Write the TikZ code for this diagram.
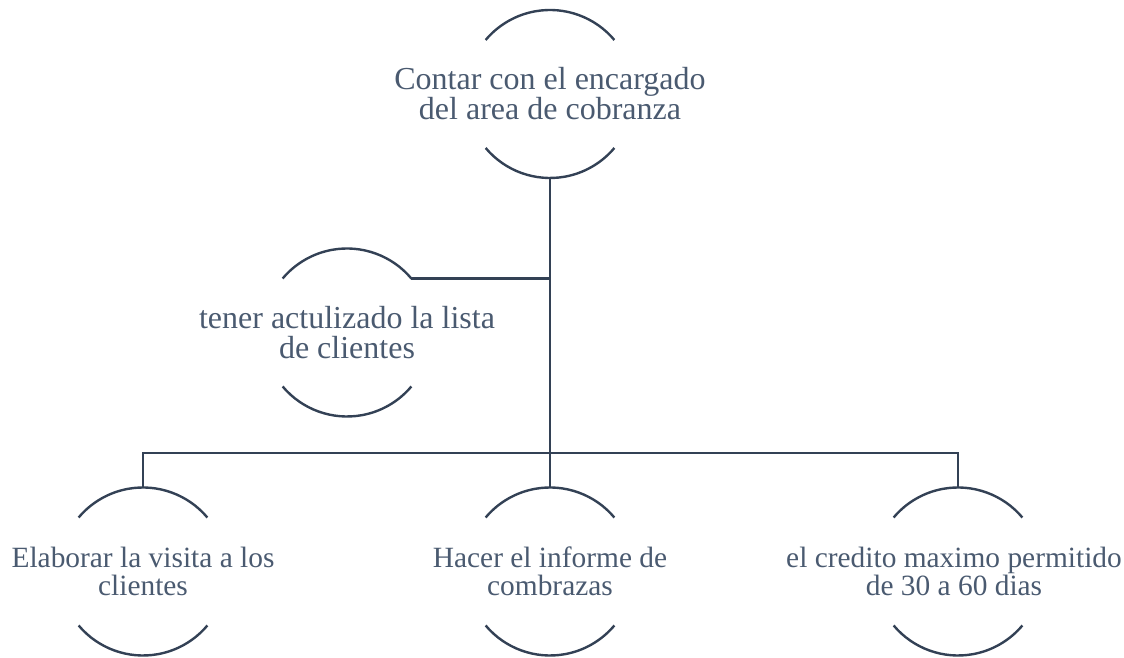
\documentclass[tikz,border=0pt]{standalone}
\usepackage{fontspec}
\setmainfont{Liberation Serif}
\definecolor{linea}{HTML}{334155}
\definecolor{texto}{HTML}{4A5A70}
\tikzset{
    anillo/.style={circle, minimum size=168pt, inner sep=0pt, outer sep=0pt},
    txt/.style={align=center, text=texto, font=\fontsize{32}{30}\selectfont},
    txtchico/.style={txt, font=\fontsize{29.4}{28.5}\selectfont},
    linea/.style={draw=linea, line width=2.4pt}
}
\begin{document}
\begin{tikzpicture}[x=1pt, y=1pt]
        \useasboundingbox (0,0) rectangle (1124,658);
        \node[anillo, label={[txt]center:Contar con el encargado \\ del area de cobranza}] at (550, 564) (raiz) {};
        \node[anillo, label={[txt]center:tener actulizado la lista \\ de clientes}] at (347, 325.5) (lista) {};
        \node[anillo, label={[txtchico]center:Elaborar la visita a los \\ clientes}] at (143, 86.5) (visita) {};
        \node[anillo, label={[txtchico]center:Hacer el informe de \\ combrazas}] at (550, 86.5) (informe) {};
        \node[anillo, label={[txtchico, xshift=-4pt]center:el credito maximo permitido \\ de 30 a 60 dias}] at (958, 86.5) (credito) {};
        \coordinate (barra) at (550, 205);
        \foreach \n in {raiz, lista, visita, informe, credito} {
            \draw[linea] (\n.40) arc[start angle=40, end angle=140, radius=84pt];
            \draw[linea] (\n.220) arc[start angle=220, end angle=320, radius=84pt];
        }
        \draw[linea] (raiz.south) -- (informe.north);
        \draw[linea] (lista.40) -- (lista.40 -| raiz.south);
        \draw[linea] (visita.north) |- (barra) -| (credito.north);
    \end{tikzpicture}
\end{document}
